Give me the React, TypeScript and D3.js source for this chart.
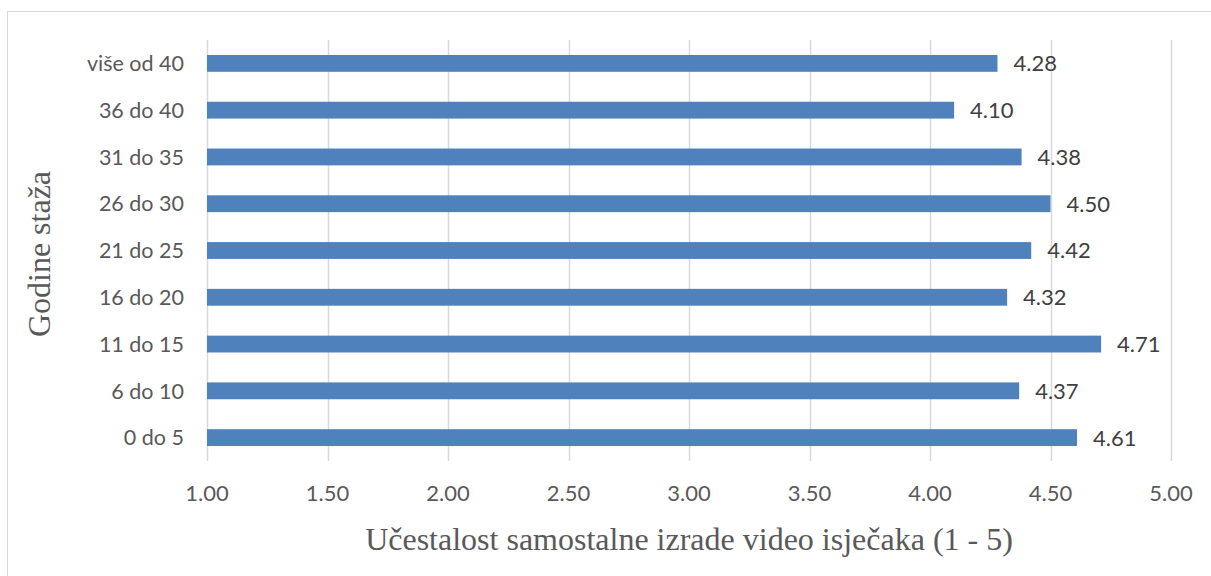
import React, { useEffect, useRef } from 'react';
import * as d3 from 'd3';

const categories = ['0 do 5', '6 do 10', '11 do 15', '16 do 20', '21 do 25', '26 do 30', '31 do 35', '36 do 40', 'više od 40'];
const values = [4.61, 4.37, 4.71, 4.32, 4.42, 4.5, 4.38, 4.1, 4.28];
const xTicks = [1, 1.5, 2, 2.5, 3, 3.5, 4, 4.5, 5];
const xTitle = 'Učestalost samostalne izrade video isječaka (1 - 5)';
const yTitle = 'Godine staža';

const W = 1211;
const H = 576;

const App = () => {
  const ref = useRef<SVGSVGElement>(null);

  useEffect(() => {
    if (!ref.current) return;
    const svg = d3.select(ref.current);
    svg.selectAll('*').remove();

    const margin = { top: 40, right: 40, bottom: 115, left: 207 };
    const plotW = 1171 - margin.left;
    const plotH = 461 - margin.top;

    // chart border (runs off the right and bottom of the picture)
    svg.append('rect')
      .attr('x', 7.5).attr('y', 11.5)
      .attr('width', W).attr('height', H)
      .attr('fill', '#fff')
      .attr('stroke', '#d9d9d9');

    const x = d3.scaleLinear().domain([1, 5]).range([0, plotW]);
    const y = d3.scaleBand()
      .domain([...categories].reverse())
      .range([0, plotH])
      .paddingInner(0.64)
      .paddingOuter(0.32);

    const g = svg.append('g').attr('transform', `translate(${margin.left},${margin.top})`);

    g.selectAll('line.grid')
      .data(xTicks)
      .enter().append('line')
      .attr('x1', d => Math.round(x(d)) + 0.5)
      .attr('x2', d => Math.round(x(d)) + 0.5)
      .attr('y1', 0).attr('y2', plotH)
      .attr('stroke', '#d9d9d9')
      .attr('stroke-width', 1.5);

    g.selectAll('rect.bar')
      .data(categories)
      .enter().append('rect')
      .attr('x', x(1))
      .attr('y', d => y(d)!)
      .attr('width', (d, i) => x(values[i]) - x(1))
      .attr('height', y.bandwidth())
      .attr('fill', '#4f81bd');

    g.selectAll('text.val')
      .data(categories)
      .enter().append('text')
      .attr('x', (d, i) => x(values[i]) + 16)
      .attr('y', d => y(d)! + y.bandwidth() / 2)
      .attr('dy', '0.36em')
      .attr('font-family', 'Lato, "Open Sans", sans-serif')
      .attr('font-size', 22)
      .attr('fill', '#404040')
      .text((d, i) => values[i].toFixed(2));

    g.selectAll('text.cat')
      .data(categories)
      .enter().append('text')
      .attr('x', -23)
      .attr('y', d => y(d)! + y.bandwidth() / 2)
      .attr('dy', '0.36em')
      .attr('text-anchor', 'end')
      .attr('font-family', 'Lato, "Open Sans", sans-serif')
      .attr('font-size', 21.5)
      .attr('fill', '#595959')
      .text(d => d);

    g.selectAll('text.tick')
      .data(xTicks)
      .enter().append('text')
      .attr('x', d => x(d))
      .attr('y', plotH + 32)
      .attr('dy', '0.36em')
      .attr('text-anchor', 'middle')
      .attr('font-family', 'Lato, "Open Sans", sans-serif')
      .attr('font-size', 22)
      .attr('fill', '#595959')
      .text(d => d.toFixed(2));

    svg.append('text')
      .attr('x', margin.left + plotW / 2)
      .attr('y', 550)
      .attr('text-anchor', 'middle')
      .attr('font-family', '"Liberation Serif", "Times New Roman", serif')
      .attr('font-size', 32)
      .attr('fill', '#595959')
      .text(xTitle);

    svg.append('text')
      .attr('transform', `translate(50,254) rotate(-90)`)
      .attr('text-anchor', 'middle')
      .attr('font-family', '"Liberation Serif", "Times New Roman", serif')
      .attr('font-size', 32)
      .attr('fill', '#595959')
      .text(yTitle);
  }, []);

  return (
    <svg
      ref={ref}
      width={W}
      height={H}
      style={{ position: 'absolute', left: 0, top: 0, background: '#fff' }}
    />
  );
};

export default App;
